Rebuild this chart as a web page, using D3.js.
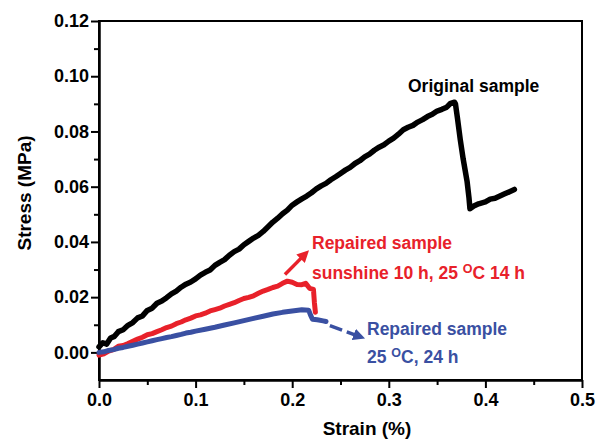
<!DOCTYPE html>
<html>
<head>
<meta charset="utf-8">
<script src="https://cdn.jsdelivr.net/npm/d3@7"></script>
<style>
  body { margin: 0; background: #fff; }
  text { font-family: "Liberation Sans", Arial, sans-serif; font-weight: bold; }
</style>
</head>
<body>
<div id="chart"></div>
<script>
// tick values
var xTicks = [0.0, 0.1, 0.2, 0.3, 0.4, 0.5];
var xMinor = [0.05, 0.15, 0.25, 0.35, 0.45];
var yTicks = [0.00, 0.02, 0.04, 0.06, 0.08, 0.10, 0.12];
var yMinor = [0.01, 0.03, 0.05, 0.07, 0.09, 0.11];

// curves: [strain, stress]
var original = [[0.000,0.0020],[0.004,0.0035],[0.008,0.0030],[0.012,0.0052],[0.016,0.0058],[0.02,0.0075],[0.025,0.0082],
  [0.03,0.0098],[0.035,0.0108],[0.04,0.0125],[0.045,0.0132],[0.05,0.0152],[0.055,0.0160],[0.06,0.0178],[0.065,0.0186],
  [0.07,0.0198],[0.075,0.0212],[0.08,0.0222],[0.085,0.0236],[0.09,0.0247],[0.095,0.0255],[0.10,0.0266],[0.105,0.0280],
  [0.11,0.0290],[0.115,0.0298],[0.12,0.0315],[0.125,0.0326],[0.13,0.0336],[0.135,0.0352],[0.14,0.0365],[0.145,0.0374],
  [0.15,0.0390],[0.155,0.0402],[0.16,0.0414],[0.165,0.0424],[0.17,0.0438],[0.175,0.0455],[0.18,0.0472],[0.185,0.0486],
  [0.19,0.0502],[0.195,0.0515],[0.20,0.0533],[0.205,0.0545],[0.21,0.0556],[0.215,0.0566],[0.22,0.0578],[0.225,0.0592],
  [0.23,0.0603],[0.235,0.0612],[0.24,0.0625],[0.245,0.0636],[0.25,0.0648],[0.255,0.0660],[0.26,0.0670],[0.265,0.0684],
  [0.27,0.0694],[0.275,0.0708],[0.28,0.0718],[0.285,0.0732],[0.29,0.0743],[0.295,0.0752],[0.30,0.0765],[0.305,0.0776],
  [0.31,0.0790],[0.315,0.0806],[0.32,0.0815],[0.325,0.0822],[0.33,0.0834],[0.335,0.0843],[0.34,0.0854],[0.345,0.0862],
  [0.35,0.0874],[0.355,0.0880],[0.36,0.0888],[0.364,0.0902],[0.368,0.0906],[0.369,0.0900],[0.371,0.0850],[0.374,0.0770],
  [0.377,0.0700],[0.381,0.0620],[0.383,0.0560],[0.384,0.0520],[0.388,0.0530],[0.393,0.0538],[0.40,0.0545],[0.405,0.0555],
  [0.41,0.0558],[0.415,0.0566],[0.42,0.0574],[0.425,0.0582],[0.43,0.0590]];

var repairedSun = [[0,-0.0010],[0.005,-0.0005],[0.01,0.0005],[0.015,0.0010],[0.02,0.0022],[0.025,0.0025],[0.03,0.0032],
  [0.035,0.0040],[0.04,0.0048],[0.045,0.0055],[0.05,0.0064],[0.055,0.0068],[0.06,0.0075],[0.065,0.0082],[0.07,0.0090],
  [0.075,0.0095],[0.08,0.0104],[0.085,0.0110],[0.09,0.0118],[0.095,0.0124],[0.10,0.0132],[0.105,0.0136],[0.11,0.0142],
  [0.115,0.0150],[0.12,0.0155],[0.125,0.0160],[0.13,0.0168],[0.135,0.0174],[0.14,0.0180],[0.145,0.0188],[0.15,0.0195],
  [0.155,0.0199],[0.16,0.0205],[0.165,0.0214],[0.17,0.0222],[0.175,0.0228],[0.18,0.0235],[0.185,0.0240],[0.19,0.0250],
  [0.195,0.0258],[0.20,0.0254],[0.205,0.0246],[0.21,0.0245],[0.214,0.0250],[0.218,0.0232],[0.222,0.0228],[0.223,0.0180],
  [0.224,0.0145]];

var repaired25 = [[0,0.0000],[0.005,0.0002],[0.01,0.0007],[0.015,0.0010],[0.02,0.0015],[0.025,0.0018],[0.03,0.0022],
  [0.035,0.0026],[0.04,0.0030],[0.045,0.0034],[0.05,0.0038],[0.055,0.0042],[0.06,0.0046],[0.065,0.0050],[0.07,0.0054],
  [0.075,0.0057],[0.08,0.0061],[0.085,0.0065],[0.09,0.0070],[0.095,0.0073],[0.10,0.0077],[0.11,0.0084],[0.12,0.0091],
  [0.13,0.0099],[0.14,0.0107],[0.15,0.0115],[0.16,0.0123],[0.17,0.0131],[0.18,0.0139],[0.19,0.0145],[0.20,0.0150],
  [0.21,0.0154],[0.217,0.0153],[0.219,0.0135],[0.221,0.0120],[0.226,0.0118],[0.232,0.0114],[0.235,0.0112]];

// arrows, in data units: [x1, y1, x2, y2]
var redArrow = [0.1925, 0.0282, 0.2174, 0.0370];
var blueArrow = [0.239, 0.0097, 0.2754, 0.0050];

var red = "#e8212a", blue = "#3a50a2";

var svg = d3.select("#chart").append("svg")
  .attr("width", 597)
  .attr("height", 440);

var x = d3.scaleLinear().domain([0, 0.5]).range([99, 582]);
var y = d3.scaleLinear().domain([-0.01, 0.12]).range([380, 21]);

// axes
svg.append("g").attr("transform", "translate(0,380)")
  .call(d3.axisBottom(x).tickValues(xTicks).tickFormat(d3.format(".1f")).tickSize(8).tickSizeOuter(0).tickPadding(5));
svg.append("g").attr("transform", "translate(0,380)")
  .call(d3.axisBottom(x).tickValues(xMinor).tickFormat("").tickSize(5).tickSizeOuter(0));
svg.append("g").attr("transform", "translate(99,0)")
  .call(d3.axisLeft(y).tickValues(yTicks).tickFormat(d3.format(".2f")).tickSize(8).tickSizeOuter(0).tickPadding(2));
svg.append("g").attr("transform", "translate(99,0)")
  .call(d3.axisLeft(y).tickValues(yMinor).tickFormat("").tickSize(5).tickSizeOuter(0));

svg.selectAll(".domain").style("stroke-width", 2);
svg.selectAll(".tick line").style("stroke-width", 2);
svg.selectAll(".tick text").style("font-size", "18px").style("fill", "#000");

// frame
svg.append("rect")
  .attr("x", x(0)).attr("y", y(0.12))
  .attr("width", x(0.5) - x(0)).attr("height", y(-0.01) - y(0.12))
  .style("fill", "none").style("stroke", "#000").style("stroke-width", 2);

// curves
var line = d3.line().x(function(d) { return x(d[0]); }).y(function(d) { return y(d[1]); });
[[original, "#000", 5.5], [repairedSun, red, 5], [repaired25, blue, 5]].forEach(function(s) {
  svg.append("path").datum(s[0])
    .attr("d", line)
    .style("fill", "none")
    .style("stroke", s[1])
    .style("stroke-width", s[2])
    .style("stroke-linejoin", "round")
    .style("stroke-linecap", "round");
});

// arrows
function arrow(a, color, dash, id) {
  svg.append("defs").append("marker")
    .attr("id", id)
    .attr("viewBox", "0 0 10 10")
    .attr("refX", 10).attr("refY", 5)
    .attr("markerWidth", 12).attr("markerHeight", 12)
    .attr("markerUnits", "userSpaceOnUse")
    .attr("orient", "auto")
    .append("path").attr("d", "M0,0 L10,5 L0,10 z").style("fill", color);
  var x1 = x(a[0]), y1 = y(a[1]), x2 = x(a[2]), y2 = y(a[3]);
  var len = Math.sqrt((x2 - x1) * (x2 - x1) + (y2 - y1) * (y2 - y1));
  var ex = x2 - (x2 - x1) / len * 8, ey = y2 - (y2 - y1) / len * 8;
  svg.append("line")
    .attr("x1", x1).attr("y1", y1).attr("x2", ex).attr("y2", ey)
    .style("stroke", color).style("stroke-width", 3.5)
    .style("stroke-dasharray", dash);
  // head drawn on an invisible line to the tip
  svg.append("line")
    .attr("x1", ex).attr("y1", ey).attr("x2", x2).attr("y2", y2)
    .style("stroke", "none")
    .attr("marker-end", "url(#" + id + ")");
}
arrow(redArrow, red, null, "headRed");
arrow(blueArrow, blue, "13,5", "headBlue");

// annotations
svg.append("text").attr("x", 408).attr("y", 92).style("font-size", "17.5px").style("fill", "#000")
  .text("Original sample");

svg.append("text").attr("x", 312).attr("y", 249).style("font-size", "17.5px").style("fill", red)
  .text("Repaired sample");
var t1 = svg.append("text").attr("x", 312).attr("y", 279).style("font-size", "17.5px").style("fill", red);
t1.append("tspan").text("sunshine 10 h, 25 ");
t1.append("tspan").attr("dy", -6).style("font-size", "12.5px").text("O");
t1.append("tspan").attr("dy", 6).text("C 14 h");

svg.append("text").attr("x", 367).attr("y", 335).style("font-size", "17.5px").style("fill", blue)
  .text("Repaired sample");
var t2 = svg.append("text").attr("x", 367).attr("y", 363).style("font-size", "17.5px").style("fill", blue);
t2.append("tspan").text("25 ");
t2.append("tspan").attr("dy", -6).style("font-size", "12.5px").text("O");
t2.append("tspan").attr("dy", 6).text("C, 24 h");

// axis titles
svg.append("text").attr("x", 367).attr("y", 435)
  .attr("text-anchor", "middle").style("font-size", "19px")
  .text("Strain (%)");
svg.append("text").attr("transform", "translate(31,193) rotate(-90)")
  .attr("text-anchor", "middle").style("font-size", "19px")
  .text("Stress (MPa)");
</script>
</body>
</html>
